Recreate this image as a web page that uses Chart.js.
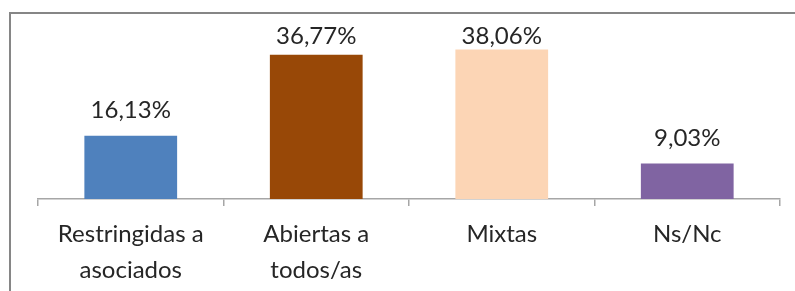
<!DOCTYPE html>
<html>
<head>
<meta charset="utf-8">
<script src="https://cdn.jsdelivr.net/npm/chart.js@4.4.1/dist/chart.umd.min.js"></script>
<style>
  html, body { margin: 0; padding: 0; background: #fff; }
  #wrap { position: relative; width: 795px; height: 291px; overflow: hidden; }
  #frame {
    position: absolute; left: 9px; top: 12px; width: 800px; height: 300px;
    border-top: 2px solid #868686; border-left: 2px solid #868686;
  }
  #myChart { position: absolute; left: 0; top: 0; }
</style>
</head>
<body>
<div id="wrap">
  <div id="frame"></div>
  <canvas id="myChart" width="795" height="291"></canvas>
</div>
<script>
const categorias = [["Restringidas a", "asociados"], ["Abiertas a", "todos/as"], "Mixtas", "Ns/Nc"];
const valores = [16.13, 36.77, 38.06, 9.03];
const colores = ["#4F81BD", "#984807", "#FCD5B5", "#8064A2"];

const fuente = "Lato, 'Open Sans', sans-serif";

const etiquetasPlugin = {
    id: "etiquetas",
    afterDatasetsDraw(chart) {
        const ctx = chart.ctx;
        const meta = chart.getDatasetMeta(0);
        ctx.save();
        ctx.font = "24px " + fuente;
        ctx.fillStyle = "#262626";
        ctx.textAlign = "center";
        ctx.textBaseline = "alphabetic";
        meta.data.forEach((bar, i) => {
            const texto = valores[i].toFixed(2).replace(".", ",") + "%";
            const y = Math.max(bar.y - 18, chart.chartArea.top + 2);
            ctx.fillText(texto, bar.x, y);
        });
        ctx.restore();
    }
};

const canvas = document.getElementById("myChart");
new Chart(canvas, {
    type: "bar",
    data: {
        labels: categorias,
        datasets: [{
            data: valores,
            backgroundColor: colores,
            barPercentage: 0.5,
            categoryPercentage: 1
        }]
    },
    options: {
        responsive: false,
        animation: false,
        layout: { padding: { left: 38, right: 15, top: 42, bottom: 0 } },
        plugins: { legend: { display: false }, tooltip: { enabled: false } },
        scales: {
            y: { display: false, min: 0, max: 40 },
            x: {
                afterFit: (scale) => { scale.height = 92; },
                border: { display: true, color: "#A6A6A6", width: 1.5 },
                grid: { drawOnChartArea: false, drawTicks: true, tickLength: 7, color: "#A6A6A6", lineWidth: 1.5 },
                ticks: {
                    color: "#262626",
                    font: { family: fuente, size: 24, lineHeight: 1.5 },
                    padding: 10,
                    maxRotation: 0,
                    autoSkip: false
                }
            }
        }
    },
    plugins: [etiquetasPlugin]
});
</script>
</body>
</html>
